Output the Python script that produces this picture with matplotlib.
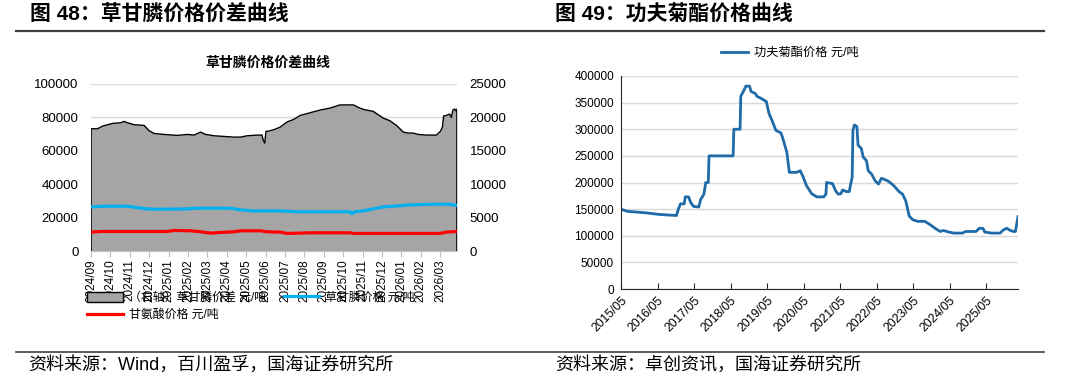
import matplotlib
matplotlib.use("Agg")
import matplotlib.pyplot as plt
from matplotlib.lines import Line2D
from matplotlib.patches import Patch
import numpy as np

plt.rcParams['font.family'] = ['Liberation Sans', 'Noto Sans CJK SC', 'DejaVu Sans']

# ---- 图48 data (months after 2024/09) ----
spread_m = [0, 0.34, 0.60, 1.11, 1.54, 1.71, 1.88, 2.23, 2.74, 3.00,
            3.25, 3.77, 4.45, 4.97, 5.31, 5.65, 5.91, 6.34, 6.85, 7.36,
            7.71, 8.05, 8.56, 8.82, 8.87, 8.96, 9.02, 9.16, 9.42, 9.76,
            10.10, 10.45, 10.79, 11.30, 11.82, 12.33, 12.84, 13.53, 13.78, 14.04,
            14.55, 15.07, 15.41, 15.75, 16.10, 16.35, 16.61, 16.87, 17.29, 17.81,
            18.01, 18.12, 18.18, 18.32, 18.49, 18.58, 18.66, 18.75, 18.84, 18.87]
spread = [18300, 18300, 18700, 19100, 19200, 19400, 19200, 18900, 18800, 18000,
          17600, 17450, 17300, 17450, 17350, 17800, 17450, 17250, 17150, 17050,
          17050, 17250, 17350, 17350, 16650, 16150, 17900, 17950, 18150, 18550,
          19300, 19700, 20300, 20700, 21100, 21400, 21870, 21870, 21500, 21200,
          20900, 19900, 19500, 18800, 17800, 17650, 17650, 17450, 17350, 17350,
          17900, 18550, 20200, 20300, 20500, 20000, 21100, 21250, 20900, 21250]

glyphosate_m = [0, 0.68, 1.88, 2.74, 3.25, 4.97, 5.31, 7.19, 7.71, 8.39, 9.76, 10.62,
                13.36, 13.44, 13.61, 14.04, 14.55, 15.07, 15.75, 16.44, 17.47, 18.49, 18.87]
glyphosate = [26400, 26800, 26800, 25400, 25000, 25200, 25600, 25600, 24600, 24000, 24000, 23500,
              23500, 22300, 23500, 24000, 25200, 26400, 27000, 27600, 28000, 28000, 27200]

glycine_m = [0, 0.51, 3.94, 4.28, 5.14, 5.65, 6.16, 6.68, 7.36, 7.71,
             8.73, 9.08, 9.76, 10.10, 11.30, 13.36, 13.53, 17.98, 18.32, 18.87]
glycine = [11300, 11700, 11700, 12300, 12100, 11500, 10700, 11100, 11500, 12100,
           12100, 11500, 11300, 10500, 10900, 10900, 10500, 10500, 11300, 11700]

month_labels = ['2024/09', '2024/10', '2024/11', '2024/12', '2025/01', '2025/02', '2025/03',
                '2025/04', '2025/05', '2025/06', '2025/07', '2025/08', '2025/09', '2025/10',
                '2025/11', '2025/12', '2026/01', '2026/02', '2026/03']

# ---- 图49 data (decimal years) ----
lc_years = [2015.33, 2015.49, 2016.01, 2016.38, 2016.85, 2016.90, 2016.96, 2017.06, 2017.09, 2017.18,
            2017.24, 2017.32, 2017.46, 2017.51, 2017.60, 2017.65, 2017.72, 2017.74, 2018.40, 2018.42,
            2018.59, 2018.61, 2018.68, 2018.75, 2018.85, 2018.89, 2019.01, 2019.05, 2019.19, 2019.31,
            2019.38, 2019.48, 2019.57, 2019.71, 2019.76, 2019.87, 2019.94, 2020.13, 2020.24, 2020.32,
            2020.41, 2020.55, 2020.69, 2020.88, 2020.94, 2020.96, 2021.12, 2021.21, 2021.28, 2021.35,
            2021.40, 2021.49, 2021.58, 2021.61, 2021.66, 2021.68, 2021.72, 2021.79, 2021.82, 2021.91,
            2021.96, 2022.05, 2022.10, 2022.19, 2022.29, 2022.38, 2022.46, 2022.57, 2022.66, 2022.80,
            2022.94, 2023.04, 2023.13, 2023.22, 2023.32, 2023.46, 2023.65, 2023.79, 2023.93, 2024.07,
            2024.16, 2024.30, 2024.44, 2024.68, 2024.77, 2025.05, 2025.14, 2025.24, 2025.29, 2025.47,
            2025.71, 2025.80, 2025.89, 2025.99, 2026.08, 2026.13, 2026.20]
lc_price = [150000, 146000, 143000, 140000, 138000, 150000, 160000, 160000, 173000, 173000,
            162000, 155000, 154000, 168000, 178000, 200000, 200000, 250000, 250000, 300000,
            300000, 362000, 371000, 381000, 381000, 371000, 367000, 362000, 357000, 352000,
            330000, 314000, 298000, 293000, 283000, 257000, 219000, 219000, 222000, 210000,
            194000, 179000, 173000, 173000, 178000, 200000, 198000, 184000, 178000, 179000,
            186000, 183000, 183000, 194000, 210000, 298000, 308000, 305000, 270000, 264000,
            248000, 241000, 222000, 216000, 203000, 197000, 208000, 205000, 202000, 194000,
            183000, 178000, 165000, 137000, 130000, 127000, 127000, 121000, 114000, 108000,
            110000, 107000, 105000, 105000, 108000, 108000, 114000, 114000, 107000, 105000,
            105000, 111000, 114000, 110000, 108000, 108000, 136000]
year_labels = ['2015/05', '2016/05', '2017/05', '2018/05', '2019/05', '2020/05',
               '2021/05', '2022/05', '2023/05', '2024/05', '2025/05']

W, H = 1080, 385
fig = plt.figure(figsize=(W / 100, H / 100), dpi=100)

def fx(px):
    return px / W

def fy(py):
    return 1 - py / H

# header / footer rules and titles
fig.add_artist(Line2D([fx(16), fx(1044)], [fy(31), fy(31)], color='#404040', lw=1.6))
fig.add_artist(Line2D([fx(16), fx(1044)], [fy(352), fy(352)], color='#404040', lw=1.2))
fig.text(fx(30), fy(15), '图 48：草甘膦价格价差曲线', fontsize=15, fontweight='bold', va='center')
fig.text(fx(555), fy(15), '图 49：功夫菊酯价格曲线', fontsize=15, fontweight='bold', va='center')
fig.text(fx(28), fy(365), '资料来源：Wind，百川盈孚，国海证券研究所', fontsize=13, va='center')
fig.text(fx(555), fy(365), '资料来源：卓创资讯，国海证券研究所', fontsize=13, va='center')

# ---------------- left chart ----------------
ax2 = fig.add_axes([fx(91), fy(251), fx(457 - 91), (251 - 84) / H])
ax = ax2.twinx()
ax.yaxis.tick_left()
ax2.yaxis.tick_right()
ax.set_zorder(ax2.get_zorder() + 1)
ax.patch.set_visible(False)

ax2.fill_between(spread_m, spread, color='#A5A5A5', lw=0)
ax2.plot(spread_m, spread, color='black', lw=1)
ax2.vlines([spread_m[0], spread_m[-1]], 0, [spread[0], spread[-1]], color='black', lw=1.2)
ax2.set_ylim(0, 25000)
ax2.set_yticks(np.arange(0, 25001, 5000))
ax2.grid(axis='y', color='#D9D9D9', lw=1)
ax2.set_axisbelow(True)

l_red, = ax.plot(glycine_m, glycine, color='#FF0000', lw=2.3)
l_blue, = ax.plot(glyphosate_m, glyphosate, color='#00B0F0', lw=2.3)
ax.set_ylim(0, 100000)
ax.set_yticks(np.arange(0, 100001, 20000))
ax.set_xlim(0, spread_m[-1])
ax2.set_xlim(0, spread_m[-1])
ax2.set_xticks(range(len(month_labels)))
ax2.set_xticklabels(month_labels, rotation=90, fontsize=8.5)

for a in (ax, ax2):
    for s in a.spines.values():
        s.set_visible(False)
ax2.spines['bottom'].set_visible(True)
ax2.spines['bottom'].set_color('#BFBFBF')
ax.tick_params(axis='y', length=0, labelsize=9.5, pad=9)
ax2.tick_params(axis='y', length=0, labelsize=9.5, pad=9)
ax2.tick_params(axis='x', length=4, color='#BFBFBF', pad=2)

fig.text(fx(268), fy(63), '草甘膦价格价差曲线', fontsize=10, fontweight='bold', ha='center', va='center')

# legend sits over the month labels, as in the source chart
h_area = Patch(facecolor='#A5A5A5', edgecolor='black', lw=1)
fig.legend([h_area, l_red, l_blue],
           ['（右轴）草甘膦价差 元/吨', '甘氨酸价格 元/吨', '草甘膦价格 元/吨'],
           ncol=2, loc='upper left', bbox_to_anchor=(fx(82), fy(287)),
           frameon=False, fontsize=8.6, handlelength=3.0, handleheight=0.9,
           columnspacing=1.5, handletextpad=0.5, labelspacing=0.45, borderaxespad=0)

# ---------------- right chart ----------------
bx = fig.add_axes([fx(621), fy(289), fx(1018 - 621), (289 - 76) / H])
l_lc, = bx.plot(lc_years, lc_price, color='#1F6AA8', lw=2.0)
bx.set_ylim(0, 400000)
bx.set_yticks(np.arange(0, 400001, 50000))
bx.set_xlim(lc_years[0], lc_years[-1])
bx.set_xticks([lc_years[0] + k for k in range(len(year_labels))])
bx.set_xticklabels(year_labels, rotation=45, ha='right', rotation_mode='anchor', fontsize=8.8)
bx.grid(axis='y', color='#D9D9D9', lw=1)
bx.set_axisbelow(True)
for k in ('top', 'right'):
    bx.spines[k].set_visible(False)
for k in ('left', 'bottom'):
    bx.spines[k].set_color('#262626')
bx.tick_params(axis='x', direction='in', length=4, color='#262626', pad=4)
bx.tick_params(axis='y', length=0, labelsize=8.5, pad=5)

fig.legend([l_lc], ['功夫菊酯价格 元/吨'], loc='center left', bbox_to_anchor=(fx(716), fy(53)),
           frameon=False, fontsize=8.8, handlelength=2.2, handletextpad=0.5, borderaxespad=0)

fig.savefig('out.png', dpi=100)
